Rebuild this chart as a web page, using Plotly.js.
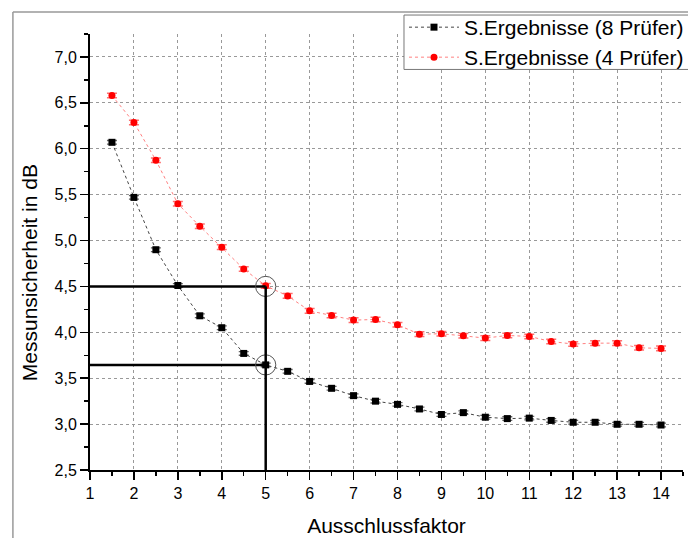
<!DOCTYPE html>
<html>
<head>
<meta charset="utf-8">
<script src="https://cdn.plot.ly/plotly-3.0.1.min.js"></script>
<style>html,body{margin:0;padding:0;background:#fff;}#chart{width:688px;height:538px;}</style>
</head>
<body>
<div id="chart"></div>
<script>
// Data
const faktor = [1.5,2,2.5,3,3.5,4,4.5,5,5.5,6,6.5,7,7.5,8,8.5,9,9.5,10,10.5,11,11.5,12,12.5,13,13.5,14];
const pruefer8 = [6.07,5.47,4.90,4.51,4.18,4.05,3.77,3.645,3.575,3.465,3.39,3.31,3.25,3.215,3.165,3.105,3.125,3.075,3.06,3.065,3.04,3.02,3.02,2.998,2.998,2.99];
const pruefer8Err = [0.02,0.02,0.02,0.02,0.02,0.02,0.02,0.02,0.02,0.02,0.02,0.02,0.02,0.02,0.02,0.02,0.02,0.02,0.02,0.02,0.02,0.02,0.02,0.02,0.02,0.02];
const pruefer4 = [6.58,6.285,5.875,5.40,5.155,4.928,4.69,4.506,4.397,4.234,4.184,4.133,4.14,4.082,3.98,3.984,3.962,3.937,3.966,3.955,3.90,3.872,3.882,3.882,3.831,3.825];
const pruefer4Err = [0.025,0.025,0.025,0.025,0.025,0.025,0.025,0.025,0.025,0.025,0.025,0.025,0.025,0.025,0.025,0.025,0.025,0.025,0.025,0.025,0.025,0.025,0.025,0.025,0.025,0.025];
const seriesNames = ['S.Ergebnisse (8 Prüfer)', 'S.Ergebnisse (4 Prüfer)'];
// Reading guides drawn at Ausschlussfaktor 5
const guideX = 5;
const guideY = [4.5, 3.645];

const FONT = 'Arial, "Liberation Sans", sans-serif';

const traces = [
  {
    x: faktor, y: pruefer8, name: seriesNames[0], type: 'scatter', mode: 'lines+markers', legend: 'legend',
    line: {color: '#444', width: 1, dash: 'dot'},
    marker: {symbol: 'square', size: 7, color: '#000'},
    error_y: {type: 'data', array: pruefer8Err, visible: true, color: '#666', thickness: 1.3, width: 5}
  },
  {
    x: faktor, y: pruefer4, name: seriesNames[1], type: 'scatter', mode: 'lines+markers', legend: 'legend2',
    line: {color: '#ff8080', width: 1, dash: 'dot'},
    marker: {symbol: 'circle', size: 7, color: '#ff0000'},
    error_y: {type: 'data', array: pruefer4Err, visible: true, color: '#ff7070', thickness: 1.5, width: 5}
  }
];

const shapes = [];
// outer gray frame (top and left edges)
shapes.push({type: 'line', xref: 'paper', yref: 'paper', x0: -0.13, x1: 1.02, y0: 1.0504, y1: 1.0504, line: {color: '#999', width: 1.5}});
shapes.push({type: 'line', xref: 'paper', yref: 'paper', x0: -0.13, x1: -0.13, y0: 1.0504, y1: -0.16, line: {color: '#999', width: 1.5}});
// legend box (runs off the right edge as in the reference)
shapes.push({type: 'rect', xref: 'paper', yref: 'paper', x0: 0.5295, x1: 1.05, y0: 0.9187, y1: 1.0435, fillcolor: '#fff', line: {color: '#777', width: 1}, layer: 'above'});
// guide lines
guideY.forEach(function (gy) {
  shapes.push({type: 'line', xref: 'x', yref: 'y', x0: 1, x1: guideX, y0: gy, y1: gy, line: {color: '#000', width: 2.5}});
  shapes.push({type: 'circle', xref: 'x', yref: 'y', x0: guideX - 0.23, x1: guideX + 0.23, y0: gy - 0.11, y1: gy + 0.11, line: {color: '#555', width: 1}});
});
shapes.push({type: 'line', xref: 'x', yref: 'y', x0: guideX, x1: guideX, y0: 2.5, y1: guideY[0], line: {color: '#000', width: 2.5}});

const legendBase = {
  x: 0.5295, xanchor: 'left', yanchor: 'top',
  bgcolor: 'rgba(0,0,0,0)', borderwidth: 0,
  font: {family: FONT, size: 21, color: '#000'},
  itemwidth: 50
};

const layout = {
  width: 688, height: 538,
  margin: {l: 90, r: 5, t: 34, b: 67.5, pad: 0, autoexpand: false},
  paper_bgcolor: '#fff', plot_bgcolor: '#fff',
  separators: ',.',
  font: {family: FONT, color: '#000', size: 16},
  showlegend: true,
  legend: Object.assign({}, legendBase, {y: 1.0619}),
  legend2: Object.assign({}, legendBase, {y: 0.9931}),
  xaxis: {
    range: [1, 14.5], tickmode: 'linear', tick0: 1, dtick: 1,
    ticks: 'outside', ticklen: 8, tickwidth: 1.5, tickcolor: '#000',
    minor: {dtick: 0.5, tick0: 1, ticks: 'outside', ticklen: 4, tickwidth: 1.5, tickcolor: '#000', showgrid: false},
    showline: true, linecolor: '#000', linewidth: 2,
    showgrid: true, gridcolor: '#999', griddash: 'dot', gridwidth: 1,
    zeroline: false, tickfont: {family: FONT, size: 16}, automargin: false,
    title: {text: 'Ausschlussfaktor', font: {family: FONT, size: 21}, standoff: 17}
  },
  yaxis: {
    range: [2.5, 7.25], tickmode: 'linear', tick0: 2.5, dtick: 0.5, tickformat: '.1f',
    ticks: 'outside', ticklen: 8, tickwidth: 1.5, tickcolor: '#000',
    minor: {dtick: 0.25, tick0: 2.5, ticks: 'outside', ticklen: 4, tickwidth: 1.5, tickcolor: '#000', showgrid: false},
    showline: true, linecolor: '#000', linewidth: 2,
    showgrid: true, gridcolor: '#999', griddash: 'dot', gridwidth: 1,
    zeroline: false, tickfont: {family: FONT, size: 16}, automargin: false
  },
  shapes: shapes,
  annotations: [{
    text: 'Messunsicherheit in dB', textangle: -90, showarrow: false,
    xref: 'paper', yref: 'paper', x: -0.102, y: 0.4525, xanchor: 'center', yanchor: 'middle',
    font: {family: FONT, size: 21, color: '#000'}
  }]
};

Plotly.newPlot('chart', traces, layout, {displayModeBar: false, staticPlot: true});
</script>
</body>
</html>
